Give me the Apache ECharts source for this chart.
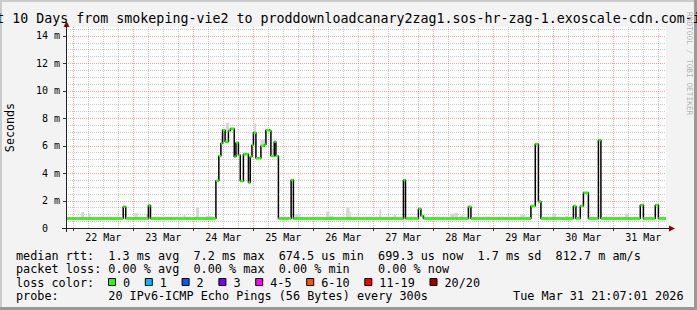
<!DOCTYPE html>
<html><head><meta charset="utf-8">
<script src="https://cdn.jsdelivr.net/npm/echarts@6/dist/echarts.min.js"></script>
<style>html,body{margin:0;padding:0;background:#f3f3f3}#c{width:697px;height:310px}</style>
</head><body><div id="c"></div>
<script>
// ---------------- data ----------------
const chartTitle = 'Last 10 Days from smokeping-vie2 to proddownloadcanary2zag1.sos-hr-zag-1.exoscale-cdn.com-ipv6';
const yAxisName = 'Seconds';
const START = '03-21 21:07', END = '03-31 21:07';
const dayLabels = ['22 Mar','23 Mar','24 Mar','25 Mar','26 Mar','27 Mar','28 Mar','29 Mar','30 Mar','31 Mar'];
const dayLabelTimes = ['03-22 12:00','03-23 12:00','03-24 12:00','03-25 12:00','03-26 12:00','03-27 12:00','03-28 12:00','03-29 12:00','03-30 12:00','03-31 12:00'];
const midnightTimes = ['03-22 00:00','03-23 00:00','03-24 00:00','03-25 00:00','03-26 00:00','03-27 00:00','03-28 00:00','03-29 00:00','03-30 00:00','03-31 00:00'];
const yTickValues  = [0, 2, 4, 6, 8, 10, 12, 14];
const yTickNumbers = ['0','2','4','6','8','10','12','14'];
const yTickUnits   = ['', 'm','m','m','m','m','m','m'];

// median RTT (ms), each value holds from its time until the next time
const medianTimes = ['03-21 21:07','03-22 20:00','03-22 21:00','03-23 06:05','03-23 06:55',
 '03-24 09:05','03-24 10:15','03-24 11:05','03-24 11:45','03-24 12:45','03-24 14:05','03-24 14:50',
 '03-24 16:25','03-24 17:05','03-24 18:05','03-24 18:50','03-24 20:05','03-24 22:05','03-24 22:50',
 '03-24 23:30','03-25 00:05','03-25 01:05','03-25 03:05','03-25 04:25','03-25 05:05','03-25 06:25',
 '03-25 07:05','03-25 08:25','03-25 09:05','03-25 10:05','03-25 15:10','03-25 16:05',
 '03-27 12:05','03-27 12:55','03-27 18:05','03-27 19:05','03-27 20:05','03-28 14:05','03-28 15:05',
 '03-29 15:05','03-29 16:50','03-29 18:05','03-29 19:05','03-30 08:05','03-30 09:05','03-30 10:50',
 '03-30 12:05','03-30 14:05','03-30 18:05','03-30 19:05','03-31 10:50','03-31 12:05','03-31 16:50',
 '03-31 18:05'];
const medianMs = [0.70,1.55,0.70,1.63,0.70,
 3.44,5.24,6.16,7.13,6.28,7.08,7.23,
 5.19,6.21,5.31,3.42,5.36,3.32,5.19,
 6.04,6.94,5.07,5.97,6.06,7.13,7.08,
 5.24,6.28,5.24,0.70,3.49,0.70,
 3.49,0.70,1.40,0.88,0.70,1.55,0.70,
 1.60,6.11,1.92,0.70,1.60,0.70,1.60,
 2.57,0.70,6.40,0.70,1.67,0.70,1.67,
 0.70];

// smoke (ping spread, ms)
const smokeStart = ['03-22 03:10','03-22 06:05','03-23 00:30','03-23 05:10','03-23 13:10','03-23 20:05','03-24 01:10','03-24 05:10',
 '03-24 11:10','03-24 13:05','03-25 00:25','03-25 02:50','03-25 07:30','03-25 16:50','03-26 05:10','03-26 06:30','03-26 13:10',
 '03-26 14:30','03-27 02:25','03-27 08:05','03-28 06:50','03-28 08:25','03-28 10:50','03-29 10:50','03-29 23:35','03-30 04:50',
 '03-30 20:25','03-31 04:50'];
const smokeEnd = ['03-22 04:20','03-22 06:55','03-23 01:50','03-23 06:00','03-23 15:10','03-23 20:55','03-24 02:20','03-24 07:50',
 '03-24 12:00','03-24 14:25','03-25 01:10','03-25 04:50','03-25 08:05','03-25 18:50','03-26 06:30','03-26 08:05','03-26 14:30',
 '03-26 15:10','03-27 03:10','03-27 09:10','03-28 08:25','03-28 10:00','03-28 12:00','03-29 12:50','03-30 01:10','03-30 06:05',
 '03-30 21:30','03-31 06:05'];
const smokeLo = [0.7,0.7,0.7,0.7,0.7,0.7,0.7,0.7, 6.16,7.10,6.94,5.97,5.24, 0.7,0.7,0.7,0.7,0.7,0.7,0.7,0.7,0.7,0.7,0.7,0.7,0.7,0.7,0.7];
const smokeHi = [1.16,1.02,1.08,1.02,0.80,0.96,1.49,0.88, 6.70,7.66,7.62,6.42,5.80, 1.00,1.19,0.90,1.50,1.19,1.36,1.00,1.04,1.11,0.90,0.95,1.05,0.87,0.82,1.03];

// legend texts
const legendRow1 = [[0,'median rtt:'],[13,'1.3 ms avg'],[25,'7.2 ms max'],[37,'674.5 us min'],[51,'699.3 us now'],[65,'1.7 ms sd'],[76,'812.7 m am/s']];
const legendRow2 = [[0,'packet loss:'],[13,'0.00 % avg'],[25,'0.00 % max'],[37,'0.00 % min'],[51,'0.00 % now']];
const legendRow3Title = 'loss color:';
const lossLabels = ['0','1','2','3','4-5','6-10','11-19','20/20'];
const lossColors = ['#26ff00','#00b8ff','#0059ff','#7e00ff','#ff00ff','#ff5500','#ff0000','#a10000'];
const legendRow4 = [[0,'probe:'],[13,'20 IPv6-ICMP Echo Pings (56 Bytes) every 300s']];
const dateText = 'Tue Mar 31 21:07:01 2026';
const watermark = 'RRDTOOL / TOBI OETIKER';

// ---------------- helpers ----------------
function T(s){ const [md,hm]=s.split(' '); const [mo,d]=md.split('-').map(Number); const [h,mi]=hm.split(':').map(Number); return new Date(2026,mo-1,d,h,mi).getTime(); }
const MONO = '"DejaVu Sans Mono", monospace';
const GL = 66, GT = 27, GW = 600, GH = 201;
const YMAX = 14.63;

// step-line data
const medianLine = medianTimes.map((t,i)=>[T(t), medianMs[i]]);
medianLine.push([T(END), medianMs[medianMs.length-1]]);
const capData = medianTimes.map((t,i)=>[T(t), i+1<medianTimes.length ? T(medianTimes[i+1]) : T(END), medianMs[i]]);
const smokeData = smokeStart.map((t,i)=>[T(t), T(smokeEnd[i]), smokeLo[i], smokeHi[i]]);

// grid positions
const minorX = [];
for (let d = 22; d <= 31; d++) for (const h of [6,12,18]) minorX.push([T('03-'+d+' '+String(h).padStart(2,'0')+':00'), 0]);
const majorX = midnightTimes.map(t=>[T(t),0]);
const minorY = [];
for (let k = 1; k <= 29; k++) { const v = k*0.5; if (v % 2 !== 0) minorY.push([T(START), v]); }
const majorY = yTickValues.filter(v=>v>0).map(v=>[T(START), v]);

function txt(o){ // style helper for both naming conventions
  return Object.assign({fill:'#000', textFill:'#000'}, o, {textAlign:o.align, textVerticalAlign:o.verticalAlign});
}

function vGrid(color){
  return function(params, api){
    const cs = params.coordSys;
    const x = Math.round(api.coord([api.value(0), 0])[0]) + 0.5;
    return {type:'line', shape:{x1:x, y1:cs.y, x2:x, y2:cs.y+cs.height}, style:{stroke:color, lineWidth:1, lineDash:[1,1]}};
  };
}
function hGrid(color){
  return function(params, api){
    const cs = params.coordSys;
    const y = Math.round(api.coord([api.value(0), api.value(1)])[1]) + 0.5;
    return {type:'line', shape:{x1:cs.x, y1:y, x2:cs.x+cs.width, y2:y}, style:{stroke:color, lineWidth:1, lineDash:[1,1]}};
  };
}

const RED = 'rgba(255,0,0,0.38)', GRAY = 'rgba(0,0,0,0.2)';

const series = [
  {type:'custom', data:minorX, renderItem:vGrid(GRAY), z:1, silent:true, encode:{x:0,y:1}},
  {type:'custom', data:minorY, renderItem:hGrid(GRAY), z:1, silent:true, encode:{x:0,y:1}},
  {type:'custom', data:majorX, renderItem:vGrid(RED), z:1, silent:true, encode:{x:0,y:1}},
  {type:'custom', data:majorY, renderItem:hGrid(RED), z:1, silent:true, encode:{x:0,y:1}},
  {type:'custom', data:smokeData, z:2, silent:true, encode:{x:[0,1], y:[2,3]},
    renderItem:function(params, api){
      const p0 = api.coord([api.value(0), api.value(3)]);
      const p1 = api.coord([api.value(1), api.value(2)]);
      return {type:'rect', shape:{x:p0[0], y:p0[1], width:p1[0]-p0[0], height:p1[1]-p0[1]}, style:{fill:'#d6d6d6'}};
    }},
  {type:'line', data:medianLine, step:'end', showSymbol:false, symbol:'none', z:3, silent:true,
    lineStyle:{color:'#000', width:1.5}},
  {type:'custom', data:capData, z:4, silent:true, encode:{x:[0,1], y:2},
    renderItem:function(params, api){
      const p0 = api.coord([api.value(0), api.value(2)]);
      const p1 = api.coord([api.value(1), api.value(2)]);
      return {type:'line', shape:{x1:p0[0], y1:p0[1], x2:p1[0], y2:p1[1]}, style:{stroke:'#26ff00', lineWidth:2.5}};
    }},
  // x day labels
  {type:'custom', data:dayLabelTimes.map((t,i)=>[T(t),0,i]), z:5, silent:true, encode:{x:0,y:1},
    renderItem:function(params, api){
      const cs = params.coordSys;
      const x = api.coord([api.value(0), 0])[0];
      return {type:'text', x:x, y:cs.y+cs.height+9, style:txt({text:dayLabels[api.value(2)], font:'10px '+MONO, align:'center', verticalAlign:'middle', fill:'#000'})};
    }},
  // x major ticks
  {type:'custom', data:majorX, z:5, silent:true, encode:{x:0,y:1},
    renderItem:function(params, api){
      const cs = params.coordSys;
      const x = Math.round(api.coord([api.value(0), 0])[0]) + 0.5;
      return {type:'line', shape:{x1:x, y1:cs.y+cs.height, x2:x, y2:cs.y+cs.height+3}, style:{stroke:'#333', lineWidth:1}};
    }},
  // y labels + ticks
  {type:'custom', data:yTickValues.map((v,i)=>[T(START), v, i]), z:5, silent:true, encode:{x:0,y:1},
    renderItem:function(params, api){
      const cs = params.coordSys;
      const y = api.coord([api.value(0), api.value(1)])[1];
      const i = api.value(2);
      const yy = Math.round(y)+0.5;
      const children = [
        {type:'text', x:cs.x-18, y:y, style:txt({text:yTickNumbers[i], font:'10px '+MONO, align:'right', verticalAlign:'middle', fill:'#000'})},
        {type:'line', shape:{x1:cs.x-3, y1:yy, x2:cs.x, y2:yy}, style:{stroke:'#333', lineWidth:1}}
      ];
      if (yTickUnits[i]) children.push({type:'text', x:cs.x-12, y:y, style:txt({text:yTickUnits[i], font:'10px '+MONO, align:'left', verticalAlign:'middle', fill:'#000'})});
      return {type:'group', children:children};
    }}
];

// ---------------- static decorations ----------------
const CW = 7.1, LX = 16;
const g = [];
// frame shading
g.push({type:'rect', shape:{x:0,y:0,width:697,height:2}, style:{fill:'#cbcbcb'}, z:50});
g.push({type:'rect', shape:{x:0,y:0,width:2,height:310}, style:{fill:'#cbcbcb'}, z:50});
g.push({type:'rect', shape:{x:0,y:307,width:697,height:3}, style:{fill:'#999'}, z:50});
g.push({type:'rect', shape:{x:694,y:0,width:3,height:310}, style:{fill:'#999'}, z:50});
// title
g.push({type:'text', x:348.5, y:18.5, z:60, style:txt({text:chartTitle, font:'13.3px '+MONO, align:'center', verticalAlign:'middle', fill:'#000'})});
// watermark
g.push({type:'text', x:689, y:12, rotation:-Math.PI/2, z:60, style:txt({text:watermark, font:'7.8px '+MONO, align:'left', verticalAlign:'middle', fill:'#b4b4b4'})});
// y axis name
g.push({type:'text', x:10, y:127.5, rotation:Math.PI/2, z:60, style:txt({text:yAxisName, font:'11.7px '+MONO, align:'center', verticalAlign:'middle', fill:'#000'})});
// axes
g.push({type:'line', shape:{x1:62, y1:228.5, x2:669, y2:228.5}, style:{stroke:'#222', lineWidth:1}, z:60});
g.push({type:'line', shape:{x1:66.5, y1:232, x2:66.5, y2:25}, style:{stroke:'#222', lineWidth:1}, z:60});
g.push({type:'polygon', shape:{points:[[66.5,21],[63.5,27],[69.5,27]]}, style:{fill:'#8b0000'}, z:61});
g.push({type:'polygon', shape:{points:[[675,228.5],[669,225.5],[669,231.5]]}, style:{fill:'#8b0000'}, z:61});
// legend rows
function row(items, y){ items.forEach(([c,t])=>g.push({type:'text', x:LX+c*CW, y:y, z:60, style:txt({text:t, font:'11.8px '+MONO, align:'left', verticalAlign:'middle', fill:'#000'})})); }
row(legendRow1, 255.5);
row(legendRow2, 269);
row([[0,legendRow3Title]], 282.5);
row(legendRow4, 296);
let sx = 108.5;
lossLabels.forEach((lab,i)=>{
  g.push({type:'rect', shape:{x:sx, y:278.5, width:7, height:7}, style:{fill:lossColors[i], stroke:'#000', lineWidth:1}, z:60});
  g.push({type:'text', x:sx+14.5, y:282.5, z:60, style:txt({text:lab, font:'11.8px '+MONO, align:'left', verticalAlign:'middle', fill:'#000'})});
  sx += 14.5 + lab.length*CW + 15.2;
});
g.push({type:'text', x:683.5, y:296, z:60, style:txt({text:dateText, font:'11.8px '+MONO, align:'right', verticalAlign:'middle', fill:'#000'})});

const chart = echarts.init(document.getElementById('c'), null, {renderer:'svg', width:697, height:310});
chart.setOption({
  animation:false,
  backgroundColor:'#f3f3f3',
  grid:{left:GL, top:GT, width:GW, height:GH, show:true, backgroundColor:'#ffffff', borderWidth:0},
  xAxis:{type:'value', min:T(START), max:T(END), show:false},
  yAxis:{type:'value', min:0, max:YMAX, show:false},
  series:series,
  graphic:{elements:g}
});
</script>
</body></html>
